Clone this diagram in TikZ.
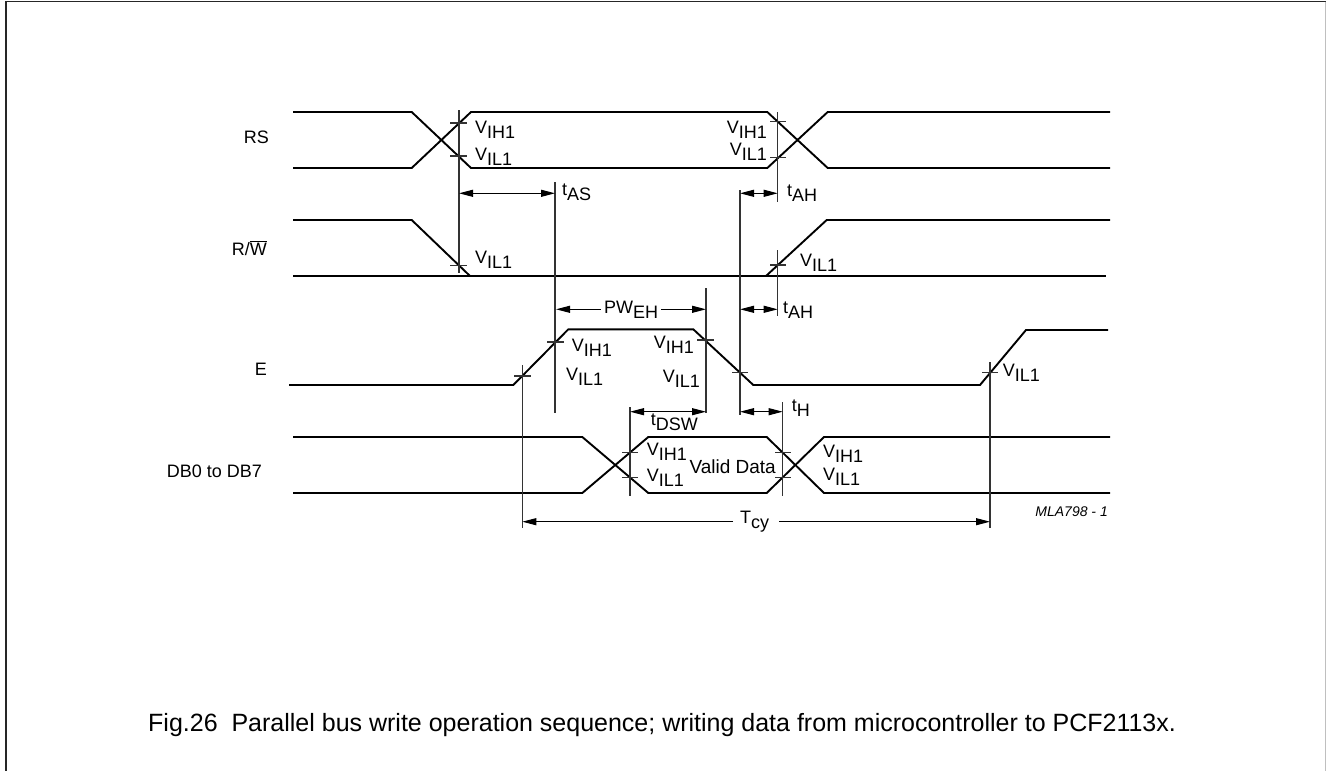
\documentclass[tikz,border=0pt]{standalone}
\usepackage{fontspec}
\setmainfont{Liberation Sans}
\usetikzlibrary{arrows.meta}
\newcommand\lo[1]{\raisebox{-5pt}{#1}}
\begin{document}
\begin{tikzpicture}[x=1pt,y=-1pt,
  sig/.style={line width=1.9pt, line join=miter},
  refl/.style={line width=1.1pt, black!80},
  tickm/.style={line width=1.1pt, black!80},
  tip/.tip={Triangle[length=14pt,width=7pt]},
  dim/.style={line width=1.1pt, black, tip-tip},
  half/.style={line width=1.1pt, black, -tip},
  lab/.style={inner sep=0pt, font=\fontsize{18}{20}\selectfont}]
\useasboundingbox (0,0) rectangle (1326,771);
% frame
\draw[line width=1.6pt, black!85] (6,771) -- (6,1.5) -- (1325.5,1.5);
\draw[line width=0.8pt, black!25] (1325.5,1.5) -- (1325.5,771);

% signal names
\node[lab, anchor=base east] (lRS) at (269,143) {RS};
\node[lab, anchor=base east] (lRW) at (267,255) {R/$\overline{\mbox{W}}$};
\node[lab, anchor=base east] (lE) at (267,375) {E};
\node[lab, anchor=base east] (lDB) at (262,477) {DB0 to DB7};

% RS
\draw[sig] (293,112) -- (411.7,112) -- (471,168) -- (767.3,168) -- (827.7,112) -- (1110,112);
\draw[sig] (293,168) -- (411.7,168) -- (471,112) -- (767.3,112) -- (827.7,168) -- (1110,168);
% R/W
\draw[sig] (293,220) -- (411.7,220) -- (470,276);
\draw[sig] (293,276) -- (1106,276);
\draw[sig] (766,276) -- (826.7,220) -- (1110,220);
% E
\draw[sig] (289,385) -- (513.3,385) -- (568.3,329.3) -- (693.3,329.3) -- (753.3,385) -- (980,385) -- (1026,330) -- (1108,330);
% DB
\draw[sig] (293,437) -- (582.3,437) -- (648.3,493) -- (766.7,493) -- (824,437) -- (1110,437);
\draw[sig] (293,493) -- (582.3,493) -- (648.3,437) -- (766.7,437) -- (824,493) -- (1110,493);

% reference verticals
\draw[refl] (459,110) -- (459,273);
\draw[refl] (555,182) -- (555,413);
\draw[refl] (777.7,112) -- (777.7,202);
\draw[refl] (777.7,250) -- (777.7,316);
\draw[refl] (740,190) -- (740,415);
\draw[refl] (706,288) -- (706,413);
\draw[refl] (522.3,365) -- (522.3,528);
\draw[refl] (630,407) -- (630,496);
\draw[refl] (782.7,402) -- (782.7,496);
\draw[refl] (990,362) -- (990,528);

% ticks
\draw[tickm] (450,123) -- (467,123);
\draw[tickm] (450,156) -- (467,156);
\draw[tickm] (450,265.7) -- (467,265.7);
\draw[tickm] (770,121.7) -- (786,121.7);
\draw[tickm] (770,157.3) -- (786,157.3);
\draw[tickm] (770,265) -- (786,265);
\draw[tickm] (514,376) -- (531,376);
\draw[tickm] (547,342) -- (564,342);
\draw[tickm] (697,340) -- (714,340);
\draw[tickm] (732,372.7) -- (748,372.7);
\draw[tickm] (982,372.7) -- (998,372.7);
\draw[tickm] (622,452.7) -- (638,452.7);
\draw[tickm] (622,477.7) -- (638,477.7);
\draw[tickm] (775,452.7) -- (791,452.7);
\draw[tickm] (775,477.7) -- (791,477.7);

% dimension arrows
\coordinate (asL) at (459,193.3); \coordinate (asR) at (555,193.3);
\coordinate (ah1L) at (740,193.3); \coordinate (ah1R) at (777.7,193.3);
\coordinate (pwL) at (556,309.3); \coordinate (pwR) at (706,309.3);
\coordinate (ah2L) at (740,309.3); \coordinate (ah2R) at (777.7,309.3);
\coordinate (dswL) at (630,411.7); \coordinate (dswR) at (706,411.7);
\coordinate (hL) at (740,411.7); \coordinate (hR) at (782.7,411.7);
\coordinate (cyL) at (522.3,521.7); \coordinate (cyR) at (990,521.7);
\draw[dim] (asL) -- (asR);
\draw[dim] (ah1L) -- (ah1R);
\draw[dim] (ah2L) -- (ah2R);
\draw[dim] (dswL) -- (dswR);
\draw[dim] (hL) -- (hR);

% labels
\node[lab, anchor=base west] (tas) at (562,195) {t\lo{AS}};
\node[lab, anchor=base west] (tah1) at (787,196) {t\lo{AH}};
\node[lab, anchor=base west] (tah2) at (783,313) {t\lo{AH}};
\node[lab, anchor=base] (pw) at (631,313) {PW\lo{EH}};
\draw[half] (pw.west |- pwL) ++(-3,0) -- (pwL);
\draw[half] (pw.east |- pwR) ++(3,0) -- (pwR);
\node[lab, anchor=base west] (th) at (791.7,411) {t\lo{H}};
\node[lab, anchor=base west] (tdsw) at (650.7,425) {t\lo{DSW}};
\node[lab, anchor=base west] (tcy) at (740,523) {T\lo{cy}};
\draw[half] (tcy.west |- cyL) ++(-7,0) -- (cyL);
\draw[half] (tcy.east |- cyR) ++(10,0) -- (cyR);

\node[lab, anchor=base west] (v1) at (475,133) {V\lo{IH1}};
\node[lab, anchor=base west] (v2) at (475,160) {V\lo{IL1}};
\node[lab, anchor=base east] (v3) at (767,133) {V\lo{IH1}};
\node[lab, anchor=base east] (v4) at (767,155) {V\lo{IL1}};
\node[lab, anchor=base west] (v5) at (475,263.3) {V\lo{IL1}};
\node[lab, anchor=base west] (v6) at (800,266) {V\lo{IL1}};
\node[lab, anchor=base west] (v7) at (571.7,351.7) {V\lo{IH1}};
\node[lab, anchor=base west] (v8) at (566,380) {V\lo{IL1}};
\node[lab, anchor=base east] (v9) at (694,348) {V\lo{IH1}};
\node[lab, anchor=base east] (v10) at (700,382) {V\lo{IL1}};
\node[lab, anchor=base west] (v11) at (1002.7,376.7) {V\lo{IL1}};
\node[lab, anchor=base west] (v12) at (646.7,455) {V\lo{IH1}};
\node[lab, anchor=base west] (v13) at (646.7,481) {V\lo{IL1}};
\node[lab, anchor=base west, font=\fontsize{19}{21}\selectfont] (vd) at (689.3,473.3) {Valid Data};
\node[lab, anchor=base west] (v14) at (823,457) {V\lo{IH1}};
\node[lab, anchor=base west] (v15) at (823,480) {V\lo{IL1}};

\node[inner sep=0pt, anchor=base east, font=\fontsize{14}{16}\selectfont\itshape] (mla) at (1108,516.7) {MLA798 - 1};
\node[inner sep=0pt, anchor=base west, font=\fontsize{25}{28}\selectfont] (cap) at (148,731.5) {Fig.26\ \ Parallel bus write operation sequence; writing data from microcontroller to PCF2113x.};
\end{tikzpicture}
\end{document}
